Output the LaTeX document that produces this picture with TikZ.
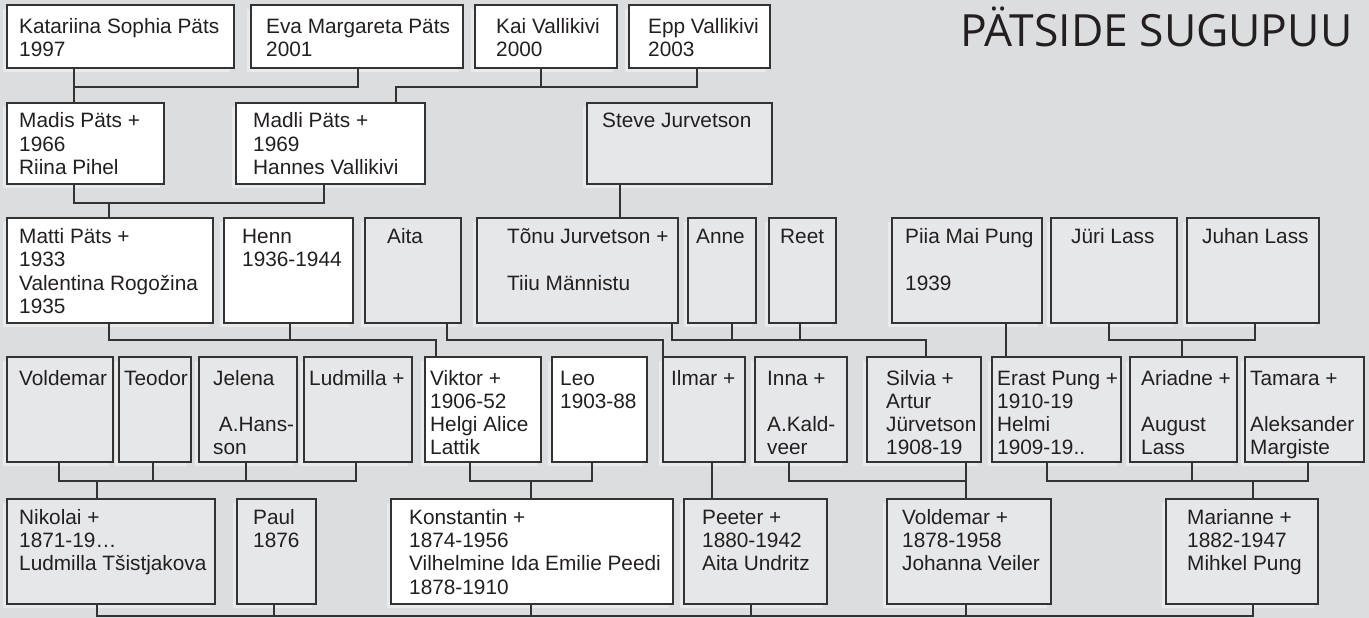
\documentclass[tikz,border=0pt]{standalone}
\usepackage{fontspec}
\setmainfont{Liberation Sans}
\newfontfamily\titlefont{Open Sans}
\usetikzlibrary{shadows}
\definecolor{bgc}{HTML}{DCDDDF}
\definecolor{boxg}{HTML}{E6E7E9}
\definecolor{shc}{HTML}{E9EAEB}
\definecolor{lnc}{HTML}{333333}
\definecolor{txc}{HTML}{231F20}
\newcommand\tl[1]{\begin{tabular}[t]{@{}l@{}}#1\end{tabular}}
\newcommand\bx[6]{\node[#1, minimum width=#5pt, minimum height=#6pt] (#2) at (#3,#4) {};}
\newcommand\tx[4]{\node[txt] (#1-t) at (#2,#3) {\tl{#4}};}
\begin{document}
\begin{tikzpicture}[x=1pt,y=-1pt,
 boxbase/.style={draw=lnc, line width=1.3pt, anchor=north west, inner sep=0pt, outer sep=0pt,
   drop shadow={shadow xshift=-4pt, shadow yshift=-4pt, fill=shc, opacity=1}},
 wbox/.style={boxbase, fill=white},
 gbox/.style={boxbase, fill=boxg},
 txt/.style={anchor=base west, inner sep=0pt, text=txc, font=\fontsize{20.8}{23.3}\selectfont},
 conn/.style={draw=lnc, line width=1.3pt}]
\useasboundingbox (0,0) rectangle (1369,618);
\fill[bgc] (0,0) rectangle (1369,618);

% title
\node[anchor=base west, inner sep=0pt, text=txc, font=\titlefont\fontsize{44.4}{50}\selectfont] (title) at (960,47) {PÄTSIDE SUGUPUU};

% row 1
\bx{wbox}{kat}{7}{5}{227}{63}
\bx{wbox}{eva}{251}{5}{212}{63}
\bx{wbox}{kai}{475}{5}{142}{63}
\bx{wbox}{epp}{629}{5}{141}{63}
% row 2
\bx{wbox}{madis}{7}{103}{157}{81}
\bx{wbox}{madli}{236}{103}{189}{81}
\bx{gbox}{steve}{587}{103}{185}{81}
% row 3
\bx{wbox}{matti}{7}{218}{206}{105}
\bx{wbox}{henn}{224}{218}{129}{105}
\bx{gbox}{aita}{365}{218}{96}{105}
\bx{gbox}{tonu}{477}{218}{201}{105}
\bx{gbox}{anne}{688}{218}{68}{105}
\bx{gbox}{reet}{769}{218}{67}{105}
\bx{gbox}{piia}{892}{218}{150}{105}
\bx{gbox}{juri}{1051}{218}{126}{105}
\bx{gbox}{juhan}{1187}{218}{132}{105}
% row 4
\bx{gbox}{vold}{7}{357}{106}{105}
\bx{gbox}{teod}{119}{357}{72}{105}
\bx{gbox}{jel}{199}{357}{98}{105}
\bx{gbox}{ludm}{304}{357}{108}{105}
\bx{wbox}{vikt}{425}{357}{116}{105}
\bx{wbox}{leo}{552}{357}{95}{105}
\bx{gbox}{ilmar}{663}{357}{82}{105}
\bx{gbox}{inna}{755}{357}{92}{105}
\bx{gbox}{silv}{867}{357}{114}{105}
\bx{gbox}{erast}{992}{357}{129}{105}
\bx{gbox}{ariad}{1130}{357}{107}{105}
\bx{gbox}{tam}{1245}{357}{119}{105}
% row 5
\bx{gbox}{nik}{7}{499}{208}{105}
\bx{gbox}{paul}{237}{499}{79}{105}
\bx{wbox}{konst}{391}{499}{282}{105}
\bx{gbox}{peeter}{684}{499}{143}{105}
\bx{gbox}{voldb}{887}{499}{164}{105}
\bx{gbox}{mari}{1166}{499}{152}{105}

% connectors
\draw[conn] ([xshift=67]kat.south west) -- ([xshift=67]madis.north west);
\draw[conn] ([xshift=67]kat.south west) ++(0,19) -| ([xshift=107]eva.south west);
\draw[conn] ([xshift=160]madli.north west) -- ++(0,-16) -| ([xshift=68]epp.south west);
\draw[conn] ([xshift=66]kai.south west) -- ++(0,19);
\draw[conn] ([xshift=67]madis.south west) -- ++(0,19) -| ([xshift=88]madli.south west);
\draw[conn] ([xshift=102]matti.north west) -- ++(0,-15);
\draw[conn] ([xshift=33]steve.south west) -- ([xshift=143]tonu.north west);
\draw[conn] ([xshift=102]matti.south west) -- ++(0,17) -| ([xshift=11]vikt.north west);
\draw[conn] ([xshift=66]henn.south west) -- ++(0,17);
\draw[conn] ([xshift=82]aita.south west) -- ++(0,17) -| (ilmar.north west);
\draw[conn] ([xshift=195]tonu.south west) -- ++(0,17) -| ([xshift=59]silv.north west);
\draw[conn] ([xshift=44]anne.south west) -- ++(0,17);
\draw[conn] ([xshift=31]reet.south west) -- ++(0,17);
\draw[conn] ([xshift=114]piia.south west) -- ([xshift=14]erast.north west);
\draw[conn] ([xshift=58]juri.south west) -- ++(0,17) -| ([xshift=68]juhan.south west);
\draw[conn] ([xshift=52]ariad.north west) -- ++(0,-17);
\draw[conn] ([xshift=52]vold.south west) -- ++(0,19) -| ([xshift=52]ludm.south west);
\draw[conn] ([xshift=34]teod.south west) -- ++(0,19);
\draw[conn] ([xshift=47]jel.south west) -- ++(0,19);
\draw[conn] ([xshift=90]nik.north west) -- ++(0,-18);
\draw[conn] ([xshift=45]vikt.south west) -- ++(0,19) -| ([xshift=40]leo.south west);
\draw[conn] ([xshift=140]konst.north west) -- ++(0,-18);
\draw[conn] ([xshift=49]ilmar.south west) -- ([xshift=28]peeter.north west);
\draw[conn] ([xshift=34]inna.south west) -- ++(0,19) -| ([xshift=99]silv.south west);
\draw[conn] ([xshift=99]silv.south west) -- ([xshift=79]voldb.north west);
\draw[conn] ([xshift=55]erast.south west) -- ++(0,19) -| ([xshift=63]tam.south west);
\draw[conn] ([xshift=62]ariad.south west) -- ++(0,19);
\draw[conn] ([xshift=87]mari.north west) -- ++(0,-18);
\draw[conn] ([xshift=90]nik.south west) -- ++(0,12) -| ([xshift=87]mari.south west);
\draw[conn] ([xshift=37]paul.south west) -- ++(0,12);
\draw[conn] ([xshift=140]konst.south west) -- ++(0,12);
\draw[conn] ([xshift=67]peeter.south west) -- ++(0,12);
\draw[conn] ([xshift=79]voldb.south west) -- ++(0,12);

% texts row 1
\tx{kat}{19}{33.3}{Katariina Sophia Päts\\1997}
\tx{eva}{266}{33.3}{Eva Margareta Päts\\2001}
\tx{kai}{496}{33.3}{Kai Vallikivi\\2000}
\tx{epp}{648}{33.3}{Epp Vallikivi\\2003}
% row 2
\tx{madis}{19}{127.7}{Madis Päts +\\1966\\Riina Pihel}
\tx{madli}{253}{127.7}{Madli Päts +\\1969\\Hannes Vallikivi}
\tx{steve}{602}{127.7}{Steve Jurvetson}
% row 3
\tx{matti}{19}{243.5}{Matti Päts +\\1933\\Valentina Rogožina\\1935}
\tx{henn}{242}{243.5}{Henn\\1936-1944}
\tx{aita}{387}{243.5}{Aita}
\tx{tonu}{507}{243.5}{Tõnu Jurvetson +\\ \\Tiiu Männistu}
\tx{anne}{696}{243.5}{Anne}
\tx{reet}{780}{243.5}{Reet}
\tx{piia}{905}{243.5}{Piia Mai Pung\\ \\1939}
\tx{juri}{1071}{243.5}{Jüri Lass}
\tx{juhan}{1202}{243.5}{Juhan Lass}
% row 4
\tx{vold}{19}{385}{Voldemar}
\tx{teod}{124}{385}{Teodor}
\tx{jel}{213}{385}{Jelena\\ \\\ A.Hans-\\son}
\tx{ludm}{309}{385}{Ludmilla +}
\tx{vikt}{430}{385}{Viktor +\\1906-52\\Helgi Alice\\Lattik}
\tx{leo}{560}{385}{Leo\\1903-88}
\tx{ilmar}{671}{385}{Ilmar +}
\tx{inna}{767}{385}{Inna +\\ \\A.Kald-\\veer}
\tx{silv}{886}{385}{Silvia +\\Artur\\Jürvetson\\1908-19}
\tx{erast}{997}{385}{Erast Pung +\\1910-19\\Helmi\\1909-19..}
\tx{ariad}{1141}{385}{Ariadne +\\ \\August\\Lass}
\tx{tam}{1250}{385}{Tamara +\\ \\Aleksander\\Margiste}
% row 5
\tx{nik}{19}{524.3}{Nikolai +\\1871-19…\\Ludmilla Tšistjakova}
\tx{paul}{253}{524.3}{Paul\\1876}
\tx{konst}{409}{524.3}{Konstantin +\\1874-1956\\Vilhelmine Ida Emilie Peedi\\1878-1910}
\tx{peeter}{702}{524.3}{Peeter +\\1880-1942\\Aita Undritz}
\tx{voldb}{902}{524.3}{Voldemar +\\1878-1958\\Johanna Veiler}
\tx{mari}{1187}{524.3}{Marianne +\\1882-1947\\Mihkel Pung}
\end{tikzpicture}
\end{document}
